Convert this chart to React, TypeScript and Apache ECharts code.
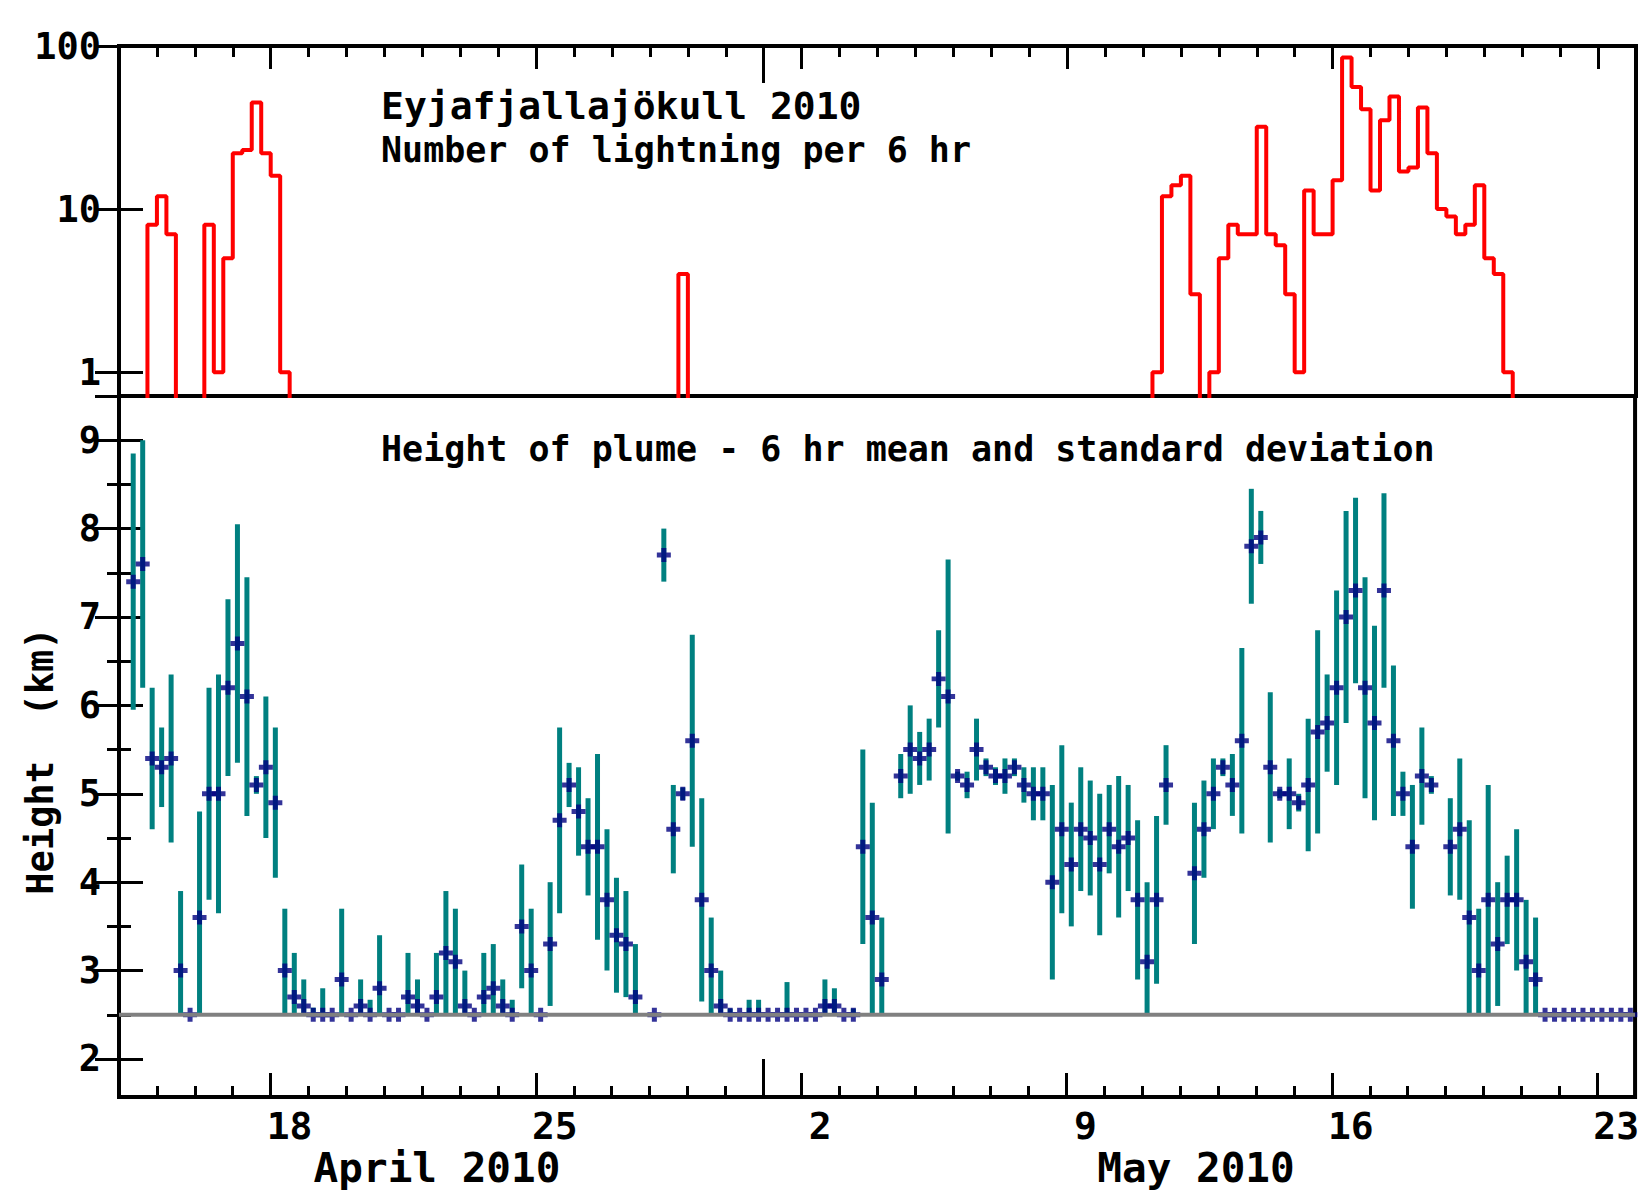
import React, { useEffect, useRef } from "react";
import * as echarts from "echarts";

// 6-hour bins starting 2010-04-14 00:00 UTC (4 bins per day, 160 bins = 40 days)
const START_UTC = Date.UTC(2010, 3, 14);
const BINS_PER_DAY = 4;
const AXIS_DAYS = 40;

// Number of lightning per 6 hr (0 = none)
const lightningPer6h = [
  0, 0, 0, 8, 12, 7, 0, 0, 0, 8, 1, 5, 22, 23, 45, 22, 16, 1, 0, 0,
  0, 0, 0, 0, 0, 0, 0, 0, 0, 0, 0, 0, 0, 0, 0, 0, 0, 0, 0, 0,
  0, 0, 0, 0, 0, 0, 0, 0, 0, 0, 0, 0, 0, 0, 0, 0, 0, 0, 0, 4,
  0, 0, 0, 0, 0, 0, 0, 0, 0, 0, 0, 0, 0, 0, 0, 0, 0, 0, 0, 0,
  0, 0, 0, 0, 0, 0, 0, 0, 0, 0, 0, 0, 0, 0, 0, 0, 0, 0, 0, 0,
  0, 0, 0, 0, 0, 0, 0, 0, 0, 1, 12, 14, 16, 3, 0, 1, 5, 8, 7, 7,
  32, 7, 6, 3, 1, 13, 7, 7, 15, 85, 56, 41, 13, 35, 49, 17, 18, 42, 22, 10,
  9, 7, 8, 14, 5, 4, 1, 0, 0, 0, 0, 0, 0, 0, 0, 0, 0, 0, 0, 0,
];

// Height of plume, 6 hr mean (km)
const plumeMeanKm = [
  null, 7.4, 7.6, 5.4, 5.3, 5.4, 3.0, 2.5, 3.6, 5.0, 5.0, 6.2, 6.7, 6.1, 5.1, 5.3, 4.9, 3.0, 2.7, 2.6,
  2.5, 2.5, 2.5, 2.9, 2.5, 2.6, 2.5, 2.8, 2.5, 2.5, 2.7, 2.6, 2.5, 2.7, 3.2, 3.1, 2.6, 2.5, 2.7, 2.8,
  2.6, 2.5, 3.5, 3.0, 2.5, 3.3, 4.7, 5.1, 4.8, 4.4, 4.4, 3.8, 3.4, 3.3, 2.7, null, 2.5, 7.7, 4.6, 5.0,
  5.6, 3.8, 3.0, 2.6, 2.5, 2.5, 2.5, 2.5, 2.5, 2.5, 2.5, 2.5, 2.5, 2.5, 2.6, 2.6, 2.5, 2.5, 4.4, 3.6,
  2.9, null, 5.2, 5.5, 5.4, 5.5, 6.3, 6.1, 5.2, 5.1, 5.5, 5.3, 5.2, 5.2, 5.3, 5.1, 5.0, 5.0, 4.0, 4.6,
  4.2, 4.6, 4.5, 4.2, 4.6, 4.4, 4.5, 3.8, 3.1, 3.8, 5.1, null, null, 4.1, 4.6, 5.0, 5.3, 5.1, 5.6, 7.8,
  7.9, 5.3, 5.0, 5.0, 4.9, 5.1, 5.7, 5.8, 6.2, 7.0, 7.3, 6.2, 5.8, 7.3, 5.6, 5.0, 4.4, 5.2, 5.1, null,
  4.4, 4.6, 3.6, 3.0, 3.8, 3.3, 3.8, 3.8, 3.1, 2.9, 2.5, 2.5, 2.5, 2.5, 2.5, 2.5, 2.5, 2.5, 2.5, 2.5,
];

// Height of plume, 6 hr standard deviation (km)
const plumeSdKm = [
  null, 1.45, 1.4, 0.8, 0.45, 0.95, 0.9, 0, 1.2, 1.2, 1.35, 1.0, 1.35, 1.35, 0.1, 0.8, 0.85, 0.7, 0.5, 0.3,
  0.08, 0.3, 0, 0.8, 0, 0.3, 0.17, 0.6, 0, 0, 0.5, 0.3, 0, 0.5, 0.7, 0.6, 0.4, 0, 0.5, 0.5,
  0.3, 0.17, 0.7, 0.7, 0, 0.7, 1.05, 0.25, 0.5, 0.55, 1.05, 0.8, 0.65, 0.6, 0.6, null, 0, 0.3, 0.5, 0.07,
  1.2, 1.15, 0.6, 0.4, 0.07, 0, 0.17, 0.17, 0, 0, 0.37, 0, 0, 0, 0.3, 0.2, 0, 0.07, 1.1, 1.3,
  0.7, null, 0.25, 0.5, 0.3, 0.35, 0.55, 1.55, 0.05, 0.15, 0.35, 0.1, 0.1, 0.2, 0.1, 0.2, 0.3, 0.3, 1.1, 0.95,
  0.7, 0.7, 0.65, 0.8, 0.5, 0.8, 0.6, 0.9, 0.9, 0.95, 0.45, null, null, 0.8, 0.55, 0.4, 0.1, 0.35, 1.05, 0.65,
  0.3, 0.85, 0.05, 0.4, 0.1, 0.75, 1.15, 0.55, 1.1, 1.2, 1.05, 1.25, 1.1, 1.1, 0.85, 0.25, 0.7, 0.55, 0.1, null,
  0.55, 0.8, 1.1, 0.7, 1.3, 0.7, 0.5, 0.8, 0.7, 0.7, 0, 0, 0, 0, 0, 0, 0, 0, 0, 0,
];

const detectionFloorKm = 2.5;

// Axis ticks (days after 14 April 2010)
const weekTickDays = [4, 11, 18, 25, 32, 39];
const weekLabelDays = [4.5, 11.5, 18.5, 25.5, 32.5, 39.5]; // labels sit over the day they name
const monthTickDays = [17];
const heightMajorTicks = [2, 3, 4, 5, 6, 7, 8, 9];
const heightMinorTicks = [2.5, 3.5, 4.5, 5.5, 6.5, 7.5, 8.5];

const titleText = "Eyjafjallajökull 2010";
const lightningText = "Number of lightning per 6 hr";
const plumeText = "Height of plume - 6 hr mean and standard deviation";
const yNameText = "Height  (km)";
const aprilText = "April 2010";
const mayText = "May 2010";

const FONT = '"DejaVu Sans Mono", "Liberation Mono", monospace';
const PLUS = "path://M4.5,0H9.5V4.5H14V9.5H9.5V14H4.5V9.5H0V4.5H4.5Z";

function buildOption() {
  const redLine: number[][] = [];
  lightningPer6h.forEach((v, k) => {
    redLine.push([k / BINS_PER_DAY, v > 0 ? v : 0.05]);
  });
  redLine.push([AXIS_DAYS, 0.05]);

  const points: number[][] = [];
  const bars: number[][] = [];
  plumeMeanKm.forEach((m, k) => {
    if (m == null) return;
    const x = (k + 0.5) / BINS_PER_DAY;
    points.push([x, m]);
    const sd = plumeSdKm[k] as number;
    if (sd && sd > 0) {
      bars.push([x, Math.max(detectionFloorKm, m - sd), m + sd]);
    }
  });

  const tickStyle = { color: "#000", width: 3 };
  const xAxis = (gridIndex: number, position: string, length: number, custom?: number[]) => {
    const a: any = {
      type: "value",
      gridIndex,
      position,
      min: 0,
      max: AXIS_DAYS,
      axisLine: { show: false },
      splitLine: { show: false },
      axisTick: { show: true, inside: true, length, lineStyle: tickStyle },
      axisLabel: { show: false },
    };
    if (custom) a.axisTick.customValues = custom;
    else a.interval = 1;
    return a;
  };

  const labelAxis = {
    type: "value",
    gridIndex: 1,
    position: "bottom",
    min: 0,
    max: AXIS_DAYS,
    axisLine: { show: false },
    splitLine: { show: false },
    axisTick: { show: false },
    axisLabel: {
      show: true,
      customValues: weekLabelDays,
      margin: 10,
      fontFamily: FONT,
      fontSize: 38,
      fontWeight: "bold",
      color: "#000",
      formatter: (v: number) => String(new Date(START_UTC + Math.floor(v) * 86400000).getUTCDate()),
    },
  };

  const logY = (position: string, labels: boolean) => ({
    type: "log",
    logBase: 10,
    gridIndex: 0,
    position,
    min: 0.714,
    max: 100,
    axisLine: { show: false },
    splitLine: { show: false },
    minorTick: { show: false },
    axisTick: { show: true, inside: true, length: 24, lineStyle: tickStyle },
    axisLabel: labels
      ? { show: true, showMinLabel: false, margin: 18, fontFamily: FONT, fontSize: 37, fontWeight: "bold", color: "#000" }
      : { show: false },
  });

  const hY = (position: string, length: number, ticks: number[], labels: boolean) => ({
    type: "value",
    gridIndex: 1,
    position,
    min: 1.57,
    max: 9.5,
    axisLine: { show: false },
    splitLine: { show: false },
    axisTick: { show: true, inside: true, length, lineStyle: tickStyle, customValues: ticks },
    axisLabel: labels
      ? { show: true, customValues: ticks, margin: 18, fontFamily: FONT, fontSize: 37, fontWeight: "bold", color: "#000" }
      : { show: false },
  });

  return {
    animation: false,
    backgroundColor: "#fff",
    grid: [
      { left: 119, top: 46, width: 1517, height: 350, show: true, borderColor: "#000", borderWidth: 4, backgroundColor: "transparent" },
      { left: 119, top: 396, width: 1517, height: 701, show: true, borderColor: "#000", borderWidth: 4, backgroundColor: "transparent" },
    ],
    xAxis: [
      xAxis(0, "top", 11),
      xAxis(0, "top", 23, weekTickDays),
      xAxis(0, "top", 37, monthTickDays),
      xAxis(1, "bottom", 11),
      xAxis(1, "bottom", 24, weekTickDays),
      xAxis(1, "bottom", 38, monthTickDays),
      labelAxis,
    ],
    yAxis: [
      logY("left", true),
      logY("right", false),
      hY("left", 24, heightMajorTicks, true),
      hY("left", 12, heightMinorTicks, false),
      hY("right", 24, heightMajorTicks, false),
      hY("right", 12, heightMinorTicks, false),
    ],
    series: [
      {
        type: "line",
        xAxisIndex: 0,
        yAxisIndex: 0,
        step: "end",
        symbol: "none",
        clip: true,
        data: redLine,
        lineStyle: { color: "#ff0000", width: 4 },
        z: 3,
      },
      {
        type: "custom",
        xAxisIndex: 3,
        yAxisIndex: 2,
        data: bars,
        encode: { x: 0, y: [1, 2] },
        z: 2,
        renderItem: (params: any, api: any) => {
          const x = api.value(0);
          const p1 = api.coord([x, api.value(2)]);
          const p2 = api.coord([x, api.value(1)]);
          return {
            type: "line",
            shape: { x1: p1[0], y1: p1[1], x2: p2[0], y2: p2[1] },
            style: { stroke: "#008080", lineWidth: 5 },
          };
        },
      },
      {
        type: "scatter",
        xAxisIndex: 3,
        yAxisIndex: 2,
        data: points,
        symbol: PLUS,
        symbolSize: 14,
        itemStyle: { color: "#000080" },
        z: 3,
      },
      {
        type: "line",
        xAxisIndex: 3,
        yAxisIndex: 2,
        symbol: "none",
        data: [
          [0, detectionFloorKm],
          [AXIS_DAYS, detectionFloorKm],
        ],
        lineStyle: { color: "#808080", width: 4 },
        z: 4,
      },
    ],
    graphic: [
      { type: "text", x: 381, y: 106, style: { text: titleText, font: `bold 38px ${FONT}`, fill: "#000", align: "left", verticalAlign: "middle" } },
      { type: "text", x: 381, y: 150, style: { text: lightningText, font: `bold 35px ${FONT}`, fill: "#000", align: "left", verticalAlign: "middle" } },
      { type: "text", x: 381, y: 449, style: { text: plumeText, font: `bold 35px ${FONT}`, fill: "#000", align: "left", verticalAlign: "middle" } },
      { type: "text", x: 40, y: 761, rotation: Math.PI / 2, style: { text: yNameText, font: `bold 37px ${FONT}`, fill: "#000", align: "center", verticalAlign: "middle" } },
      { type: "text", x: 437, y: 1168, style: { text: aprilText, font: `bold 41px ${FONT}`, fill: "#000", align: "center", verticalAlign: "middle" } },
      { type: "text", x: 1196, y: 1168, style: { text: mayText, font: `bold 41px ${FONT}`, fill: "#000", align: "center", verticalAlign: "middle" } },
    ],
  };
}

export default function App() {
  const ref = useRef<HTMLDivElement>(null);
  useEffect(() => {
    if (!ref.current) return;
    const chart = echarts.init(ref.current, undefined, { renderer: "svg" });
    chart.setOption(buildOption() as any);
    return () => chart.dispose();
  }, []);
  return (
    <div
      ref={ref}
      style={{ position: "absolute", left: 0, top: 0, width: 1642, height: 1191, background: "#fff" }}
    />
  );
}
